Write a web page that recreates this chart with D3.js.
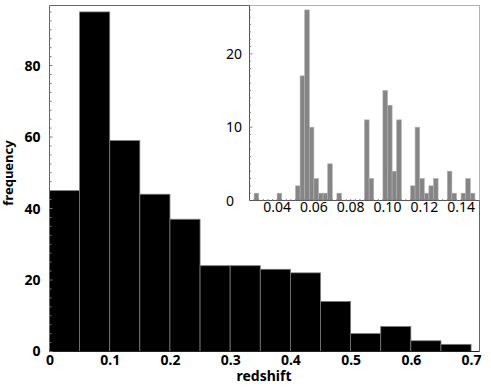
<html>
<head>
<script src="https://d3js.org/d3.v7.min.js"></script>
<style>
body { margin: 0; background: #fff; }
text { font-family: "Noto Sans", sans-serif; }
</style>
</head>
<body>
<svg width="491" height="392"></svg>
<script>

// main histogram, bins of 0.05
var mainStarts = [0, 0.05, 0.1, 0.15, 0.2, 0.25, 0.3, 0.35, 0.4, 0.45, 0.5, 0.55, 0.6, 0.65];
var mainCounts = [45, 95, 59, 44, 37, 24, 24, 23, 22, 14, 5, 7, 3, 2];
var mainXTicks = [0, 0.1, 0.2, 0.3, 0.4, 0.5, 0.6, 0.7];
var mainYTicks = [0, 20, 40, 60, 80];

// inset histogram, bins of 0.0025
var insetStarts = [0.0275, 0.04, 0.05, 0.0525, 0.055, 0.0575, 0.06, 0.0625, 0.065, 0.0675, 0.0725,
  0.0875, 0.09, 0.0975, 0.1, 0.1025, 0.105, 0.1125, 0.115, 0.1175, 0.12, 0.1225, 0.125,
  0.1325, 0.135, 0.14, 0.1425, 0.145];
var insetCounts = [1, 1, 2, 17, 26, 10, 3, 1, 1, 5, 1,
  11, 3, 15, 13, 4, 11, 2, 10, 3, 1, 2, 3,
  4, 1, 1, 3, 1];
var insetXTicks = [0.04, 0.06, 0.08, 0.10, 0.12, 0.14];
var insetYTicks = [0, 10, 20];

var mainBin = 0.05, insetBin = 0.0025;

var svg = d3.select("svg");

var x = d3.scaleLinear().domain([0, 0.714]).range([49.5, 479.5]);
var y = d3.scaleLinear().domain([0, 96.8]).range([351.5, 5.5]);

// bars
svg.append("g").selectAll("rect").data(mainStarts).enter().append("rect")
  .attr("x", function (d) { return x(d); })
  .attr("width", function (d) { return x(d + mainBin) - x(d); })
  .attr("y", function (d, i) { return y(mainCounts[i]); })
  .attr("height", function (d, i) { return y(0) - y(mainCounts[i]); })
  .style("fill", "#000")
  .style("stroke", "#7a7a7a")
  .style("stroke-width", 0.8);

// frame
svg.append("path")
  .attr("d", "M" + x.range()[0] + "," + y(0) + "V" + y.range()[1] + "H" + x.range()[1] + "V" + y(0))
  .style("fill", "none").style("stroke", "#666");
svg.append("line")
  .attr("x1", x.range()[0]).attr("x2", x.range()[1]).attr("y1", y(0)).attr("y2", y(0))
  .style("stroke", "#222");

// minor ticks on left axis
svg.append("g").selectAll("line").data(d3.range(0, 96, 2.5)).enter().append("line")
  .attr("x1", x.range()[0]).attr("x2", function (d) { return x.range()[0] + (d % 20 == 0 ? 3 : 2); })
  .attr("y1", function (d) { return y(d); }).attr("y2", function (d) { return y(d); })
  .style("stroke", "#777");

var yAxis = svg.append("g").attr("transform", "translate(" + x.range()[0] + ",0)")
  .call(d3.axisLeft(y).tickValues(mainYTicks).tickSize(0).tickPadding(9).tickFormat(d3.format("d")));
var xAxis = svg.append("g").attr("transform", "translate(0," + y(0) + ")")
  .call(d3.axisBottom(x).tickValues(mainXTicks).tickSize(0).tickPadding(4)
    .tickFormat(function (d) { return d == 0 ? "0" : d3.format(".1f")(d); }));
[yAxis, xAxis].forEach(function (a) {
  a.select(".domain").remove();
  a.selectAll("text").style("font-family", "'Noto Sans', sans-serif")
    .style("font-size", "14px").style("font-weight", "bold").style("fill", "#000");
});

svg.append("text").attr("x", 264).attr("y", 381).attr("text-anchor", "middle")
  .style("font-size", "14px").style("font-weight", "bold").text("redshift");
svg.append("text").attr("transform", "translate(13,173) rotate(-90)").attr("text-anchor", "middle")
  .style("font-size", "13px").style("font-weight", "bold").text("frequency");

// inset
var ix = d3.scaleLinear().domain([0.025, 0.15]).range([249.5, 479.5]);
var iy = d3.scaleLinear().domain([0, 26.6]).range([200.5, 5.5]);

svg.append("rect").attr("x", ix.range()[0]).attr("y", iy.range()[1])
  .attr("width", ix.range()[1] - ix.range()[0]).attr("height", iy.range()[0] - iy.range()[1])
  .style("fill", "#fff");

svg.append("g").selectAll("rect").data(insetStarts).enter().append("rect")
  .attr("x", function (d) { return ix(d); })
  .attr("width", function (d) { return ix(d + insetBin) - ix(d); })
  .attr("y", function (d, i) { return iy(insetCounts[i]); })
  .attr("height", function (d, i) { return iy(0) - iy(insetCounts[i]); })
  .style("fill", "#858585")
  .style("stroke", "#b0b0b0")
  .style("stroke-width", 0.6);

svg.append("path")
  .attr("d", "M" + ix.range()[0] + "," + iy.range()[1] + "V" + iy(0) + "H" + ix.range()[1])
  .style("fill", "none").style("stroke", "#555");

svg.append("g").selectAll("line").data(d3.range(1, 27, 1)).enter().append("line")
  .attr("x1", ix.range()[0]).attr("x2", function (d) { return ix.range()[0] + (d % 10 == 0 ? 3 : 1.5); })
  .attr("y1", function (d) { return iy(d); }).attr("y2", function (d) { return iy(d); })
  .style("stroke", "#888");
svg.append("g").selectAll("line").data(d3.range(0.0275, 0.15, 0.0025)).enter().append("line")
  .attr("x1", function (d) { return ix(d); }).attr("x2", function (d) { return ix(d); })
  .attr("y1", iy(0)).attr("y2", iy(0) - 1.5)
  .style("stroke", "#888");

svg.append("g").selectAll("text").data(insetYTicks).enter().append("text")
  .attr("x", 226).attr("y", function (d) { return iy(d); }).attr("dy", "0.36em")
  .style("font-size", "14px").text(function (d) { return d; });
svg.append("g").selectAll("text").data(insetXTicks).enter().append("text")
  .attr("x", function (d) { return ix(d); }).attr("y", 212).attr("text-anchor", "middle")
  .style("font-size", "14px").text(function (d) { return d3.format(".2f")(d); });

</script>
</body>
</html>
